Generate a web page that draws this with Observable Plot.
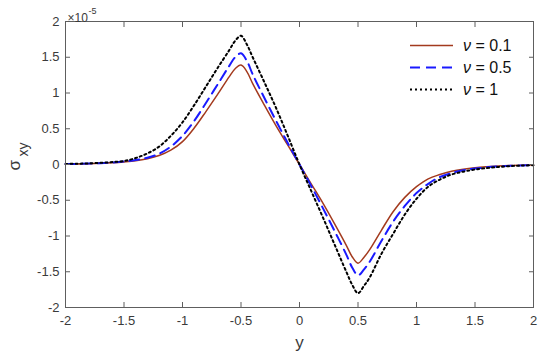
<!DOCTYPE html>
<html><head><meta charset="utf-8">
<script src="https://cdn.jsdelivr.net/npm/d3@7"></script>
<script src="https://cdn.jsdelivr.net/npm/@observablehq/plot@0.6"></script>
<style>body{margin:0;background:#fff;}</style>
</head><body><div id="chart"></div>
<script>
// x positions (y coordinate of the problem)
const xs = [-2,-1.9,-1.8,-1.7,-1.6,-1.5,-1.4,-1.3,-1.2,-1.1,-1.0,-0.9,-0.8,-0.7,-0.6,
  -0.55,-0.5,-0.45,-0.4,-0.3,-0.2,-0.1,0,0.1,0.2,0.3,0.4,0.45,0.5,0.55,
  0.6,0.7,0.8,0.9,1.0,1.1,1.2,1.3,1.4,1.5,1.6,1.7,1.8,1.9,2.0];
// sigma_xy values in units of 1e-5
const nu01 = [0.005,0.007,0.011,0.016,0.024,0.036,0.052,0.08,0.125,0.20,0.32,0.51,0.74,0.98,1.23,
  1.34,1.39,1.30,1.13,0.83,0.54,0.27,0,-0.27,-0.54,-0.83,-1.13,-1.29,-1.38,-1.30,
  -1.19,-0.92,-0.66,-0.46,-0.31,-0.20,-0.14,-0.095,-0.065,-0.045,-0.032,-0.022,-0.015,-0.01,-0.007];
const nu05 = [0.006,0.009,0.013,0.019,0.028,0.042,0.062,0.095,0.15,0.25,0.40,0.61,0.86,1.12,1.38,
  1.50,1.555,1.45,1.26,0.93,0.61,0.30,0,-0.30,-0.61,-0.93,-1.26,-1.44,-1.55,-1.47,
  -1.36,-1.07,-0.80,-0.58,-0.40,-0.27,-0.175,-0.12,-0.08,-0.056,-0.04,-0.028,-0.019,-0.013,-0.009];
const nu1 = [0.008,0.011,0.016,0.023,0.034,0.05,0.09,0.155,0.25,0.40,0.59,0.83,1.09,1.35,1.60,
  1.73,1.80,1.68,1.50,1.15,0.79,0.40,0,-0.37,-0.74,-1.12,-1.50,-1.68,-1.80,-1.70,
  -1.58,-1.25,-0.97,-0.70,-0.48,-0.31,-0.21,-0.14,-0.10,-0.07,-0.05,-0.034,-0.022,-0.015,-0.01];
const xTicks = [-2,-1.5,-1,-0.5,0,0.5,1,1.5,2];
const yTicks = [-2,-1.5,-1,-0.5,0,0.5,1,1.5,2];
const seriesNames = ["0.1","0.5","1"];

const colors = ["#a33a1e","#1a1aff","#000000"];
const dashes = [null,"10,6","2,3"];
const widths = [1.5,2,2];
const allSeries = [nu01, nu05, nu1];
const rows = allSeries.map(ys => xs.map((x,i)=>({x, v: ys[i]})));

const font = "'Liberation Sans', Arial, Helvetica, sans-serif";
const axisColor = "#5e5e5e";
const textColor = "#3a3a3a";

const lineMarks = rows.map((r,k)=>Plot.line(r,{x:"x",y:"v",stroke:colors[k],strokeWidth:widths[k],
  strokeDasharray:dashes[k], curve:"catmull-rom"}));

const plot = Plot.plot({
  width:550, height:359, marginLeft:65, marginRight:17, marginTop:21, marginBottom:52,
  style:{fontFamily:font, background:"#fff"},
  x:{domain:[-2,2]}, y:{domain:[-2,2]},
  marks:[
    ...lineMarks,
    Plot.frame({stroke:axisColor}),
    Plot.axisX(xTicks,{anchor:"bottom",tickSize:-5,tickPadding:13,tickFormat:d=>String(d),fontSize:13,fill:textColor,stroke:axisColor,label:null}),
    Plot.axisX(xTicks,{anchor:"top",tickSize:-5,fill:"none",stroke:axisColor,label:null}),
    Plot.axisY(yTicks,{anchor:"left",tickSize:-5,tickPadding:11,tickFormat:d=>String(d),fontSize:13,fill:textColor,stroke:axisColor,label:null}),
    Plot.axisY(yTicks,{anchor:"right",tickSize:-5,fill:"none",stroke:axisColor,label:null}),
    Plot.text(["y"],{frameAnchor:"bottom",text:d=>d,dy:40,fontSize:17,fill:textColor}),
    Plot.text(["σ"],{frameAnchor:"left",text:d=>d,dx:-51,dy:6,rotate:-90,fontSize:17,fill:textColor}),
    Plot.text(["xy"],{frameAnchor:"left",text:d=>d,dx:-42,dy:-8,rotate:-90,fontSize:14,fill:textColor}),
    Plot.text(["×10"],{frameAnchor:"top-left",text:d=>d,dx:2,dy:-8,textAnchor:"start",fontSize:12,fill:textColor}),
    Plot.text(["-5"],{frameAnchor:"top-left",text:d=>d,dx:23,dy:-14,textAnchor:"start",fontSize:9,fill:textColor})
  ]
});
document.getElementById("chart").appendChild(plot);

// legend (layout only)
const svg = d3.select(plot);
const lg = svg.append("g").attr("font-family",font).attr("font-size",16).attr("fill","#111")
  .attr("text-anchor","start");
const legY = [45.5,67.5,89.5];
seriesNames.forEach((n,k)=>{
  lg.append("line").attr("x1",410).attr("x2",453).attr("y1",legY[k]).attr("y2",legY[k])
    .attr("stroke",colors[k]).attr("stroke-width",widths[k]).attr("stroke-dasharray",dashes[k]);
  const t = lg.append("text").attr("x",463).attr("y",legY[k]).attr("dy","0.35em").attr("text-anchor","start");
  t.append("tspan").attr("font-style","italic").text("ν");
  t.append("tspan").text(" = "+n);
});
</script>
</body></html>
